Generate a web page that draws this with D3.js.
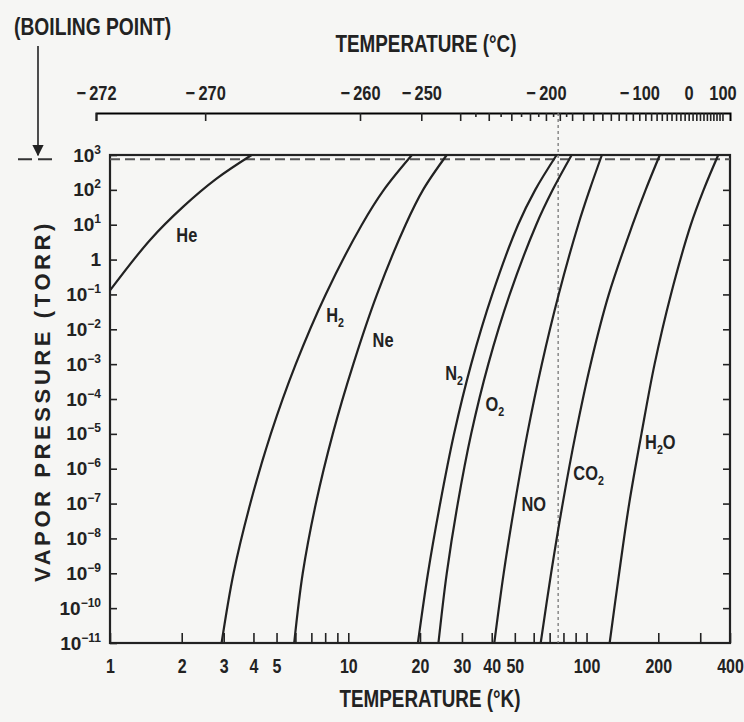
<!DOCTYPE html>
<html>
<head>
<meta charset="utf-8">
<script src="https://cdn.jsdelivr.net/npm/d3@7"></script>
<style>
  body { margin: 0; background: #f6f6f4; }
  svg { display: block; }
  text { font-family: "Liberation Sans", Arial, sans-serif; font-weight: bold; fill: #222; }
</style>
</head>
<body>
<svg id="chart" width="744" height="722"></svg>
<script>
// pressure levels (torr) at which the temperature of each curve was read
const pressureLevels = [1e-11, 1e-9, 1e-7, 1e-5, 1e-3, 1e-1, 10, 100, 1000];
const tempH2  = [2.94, 3.30, 3.88, 4.73, 6.02, 8.04, 11.4, 14.1, 18.5];
const tempNe  = [5.93, 6.44, 7.31, 8.61, 10.5, 13.2, 17.4, 20.6, 25.9];
const tempN2  = [19.6, 21.6, 24.3, 27.8, 32.8, 40.2, 51.6, 60.9, 74.9];
const tempO2  = [23.9, 25.9, 28.8, 32.8, 38.7, 47.6, 61.5, 72.1, 86.6];
const tempNO  = [41.0, 44.9, 50.0, 56.4, 64.9, 76.4, 92.3, 103, 116];
const tempCO2 = [64.2, 71.0, 79.4, 90.0, 104, 124, 156, 177, 203];
const tempH2O = [125, 137, 151, 170, 193, 226, 274, 310, 357];

// helium only covers the upper part
const heTemp = [1.0, 1.47, 2.03, 2.80, 3.93];
const hePressure = [0.13, 3.6, 33, 210, 1000];

const gasNames = ['He', 'H2', 'Ne', 'N2', 'O2', 'NO', 'CO2', 'H2O'];
const labelTemp = [2.10, 8.8, 14.0, 27.8, 41.2, 60.0, 102, 204];
const labelPressure = [5.1, 0.026, 4.9e-3, 5.4e-4, 7.1e-5, 1e-7, 7.3e-7, 5.9e-6];

const kelvinTicks = [1, 2, 3, 4, 5, 10, 20, 30, 40, 50, 100, 200, 400];
const kelvinMinor = [6, 7, 8, 9, 60, 70, 80, 90, 300];
const celsiusLabels = [-272, -270, -260, -250, -200, -100, 0, 100];
const celsiusMinor = [-240, -230, -220, -210, -190, -180, -170, -160, -150, -140, -130, -120, -110,
  -90, -80, -70, -60, -50, -40, -30, -20, -10, 10, 20, 30, 40, 50, 60, 70, 80, 90];
const celsiusFine = [-235, -225, -215, -205, -195, -185];
const pressureTicks = [1e-11, 1e-10, 1e-9, 1e-8, 1e-7, 1e-6, 1e-5, 1e-4, 1e-3, 1e-2, 1e-1, 1, 10, 100, 1000];

const boilingPressure = 760;
const nitrogenTemp = 76;

const svg = d3.select('#chart');

const x = d3.scaleLog().domain([1, 400]).range([110, 730]);
const y = d3.scaleLog().domain([1e-11, 1e3]).range([643, 155]);
// the celsius scale in the original is drawn a bit off the kelvin one
const xTop = d3.scaleLog().domain([1.15, 400]).range([96, 730]);
const toK = c => c + 273.15;

const narrow = 'scale(0.82,1)';

// frame
svg.append('rect')
  .attr('x', x(1)).attr('y', y(1e3))
  .attr('width', x(400) - x(1)).attr('height', y(1e-11) - y(1e3))
  .attr('fill', 'none').attr('stroke', '#222').attr('stroke-width', 2.2);

// bottom axis (K)
const bottom = svg.append('g').attr('transform', `translate(0,${y(1e-11)})`);
bottom.call(d3.axisBottom(x).tickValues(kelvinTicks).tickFormat(d3.format('d')).tickSize(-10).tickPadding(16));
bottom.call(g => g.select('.domain').remove());
bottom.selectAll('text').attr('font-size', 19.5).attr('font-family', null).attr('transform', narrow);
const bottomMinor = svg.append('g').attr('transform', `translate(0,${y(1e-11)})`)
  .call(d3.axisBottom(x).tickValues(kelvinMinor).tickFormat('').tickSize(-10));
bottomMinor.select('.domain').remove();

// left axis (torr)
const left = svg.append('g').attr('transform', `translate(${x(1)},0)`);
left.call(d3.axisLeft(y).tickValues(pressureTicks).tickSize(-7).tickPadding(9));
left.select('.domain').remove();
left.selectAll('text').attr('font-size', 19).attr('font-family', null)
  .each(function(d) {
    const t = d3.select(this).text('');
    const e = Math.round(Math.log10(d));
    if (e === 0) { t.text('1'); return; }
    t.append('tspan').text('10');
    t.append('tspan').attr('font-size', 12).attr('dy', -8)
      .text(e < 0 ? '\u2212' + (-e) : String(e));
  });

// right axis, ticks only
const right = svg.append('g').attr('transform', `translate(${x(400)},0)`);
right.call(d3.axisRight(y).tickValues(pressureTicks.slice(1, -1)).tickSize(-7).tickFormat(''));
right.select('.domain').remove();

// top axis (°C)
const topY = 113;
const topAxis = svg.append('g').attr('transform', `translate(0,${topY})`);
topAxis.call(d3.axisTop(xTop).tickValues(celsiusLabels.map(toK))
  .tickFormat(k => { const c = Math.round(k - 273.15); return c < 0 ? '\u2212\u2009' + (-c) : String(c); })
  .tickSize(-8).tickSizeOuter(-8).tickPadding(13));
topAxis.select('.domain').attr('stroke-width', 2);
topAxis.selectAll('text').attr('font-size', 20).attr('font-family', null).attr('transform', narrow);
svg.append('g').attr('transform', `translate(0,${topY})`)
  .call(d3.axisTop(xTop).tickValues(celsiusMinor.map(toK)).tickFormat('').tickSize(-8).tickSizeOuter(0))
  .call(g => g.select('.domain').remove());
svg.append('g').attr('transform', `translate(0,${topY})`)
  .call(d3.axisTop(xTop).tickValues(celsiusFine.map(toK)).tickFormat('').tickSize(-4).tickSizeOuter(0))
  .call(g => g.select('.domain').remove());

svg.selectAll('.tick line').attr('stroke', '#222').attr('stroke-width', 1.6);

// boiling point and liquid nitrogen guides
svg.append('line')
  .attr('x1', x(1)).attr('x2', x(400))
  .attr('y1', y(boilingPressure)).attr('y2', y(boilingPressure))
  .attr('stroke', '#555').attr('stroke-width', 2).attr('stroke-dasharray', '10,5');
svg.append('line')
  .attr('x1', x(nitrogenTemp)).attr('x2', x(nitrogenTemp))
  .attr('y1', topY).attr('y2', y(1e-11))
  .attr('stroke', '#777').attr('stroke-width', 1.3).attr('stroke-dasharray', '3,3');

// curves
const series = [
  heTemp.map((t, i) => ({t, p: hePressure[i]})),
  ...[tempH2, tempNe, tempN2, tempO2, tempNO, tempCO2, tempH2O]
    .map(ts => ts.map((t, i) => ({t, p: pressureLevels[i]})))
];
const line = d3.line().x(d => x(d.t)).y(d => y(d.p)).curve(d3.curveCatmullRom.alpha(0.5));
svg.append('g').selectAll('path').data(series).join('path')
  .attr('d', line)
  .attr('fill', 'none').attr('stroke', '#222').attr('stroke-width', 2.2);

// curve labels, digits set as subscripts
const labels = svg.append('g').selectAll('text').data(gasNames).join('text')
  .attr('transform', (d, i) => `translate(${x(labelTemp[i])},${y(labelPressure[i])}) ${narrow}`)
  .attr('text-anchor', 'middle').attr('dy', '0.35em').attr('font-size', 20);
labels.each(function(name) {
  const t = d3.select(this);
  let shifted = false;
  for (const part of name.match(/[A-Za-z]+|\d+/g)) {
    if (/\d/.test(part)) {
      t.append('tspan').attr('font-size', 13).attr('dy', 5).text(part);
      shifted = true;
    } else {
      t.append('tspan').attr('dy', shifted ? -5 : null).text(part);
      shifted = false;
    }
  }
});

// titles
svg.append('text').attr('transform', `translate(${(x(1) + x(400)) / 2 + 6},52) ${narrow}`)
  .attr('text-anchor', 'middle').attr('font-size', 23).text('TEMPERATURE (°C)');
svg.append('text').attr('transform', `translate(${(x(1) + x(400)) / 2 + 10},707) ${narrow}`)
  .attr('text-anchor', 'middle').attr('font-size', 23).text('TEMPERATURE (°K)');
svg.append('text').attr('transform', `translate(14,35) ${narrow}`)
  .attr('font-size', 23.5).text('(BOILING POINT)');
svg.append('text').attr('transform', `translate(50,${(y(1e-11) + y(1e3)) / 2 + 2}) rotate(-90)`)
  .attr('text-anchor', 'middle').attr('font-size', 22).attr('letter-spacing', 3.6)
  .text('VAPOR PRESSURE (TORR)');

// boiling point arrow
svg.append('defs').append('marker')
  .attr('id', 'arrow').attr('viewBox', '0 0 10 10')
  .attr('refX', 9).attr('refY', 5).attr('markerWidth', 7).attr('markerHeight', 7)
  .attr('orient', 'auto')
  .append('path').attr('d', 'M0,0L10,5L0,10z').attr('fill', '#222');
svg.append('line')
  .attr('x1', 38).attr('x2', 38).attr('y1', 46).attr('y2', y(boilingPressure) - 4)
  .attr('stroke', '#222').attr('stroke-width', 1.6).attr('marker-end', 'url(#arrow)');
svg.append('line')
  .attr('x1', 18).attr('x2', 58)
  .attr('y1', y(boilingPressure)).attr('y2', y(boilingPressure))
  .attr('stroke', '#333').attr('stroke-width', 2).attr('stroke-dasharray', '14,6');
</script>
</body>
</html>
